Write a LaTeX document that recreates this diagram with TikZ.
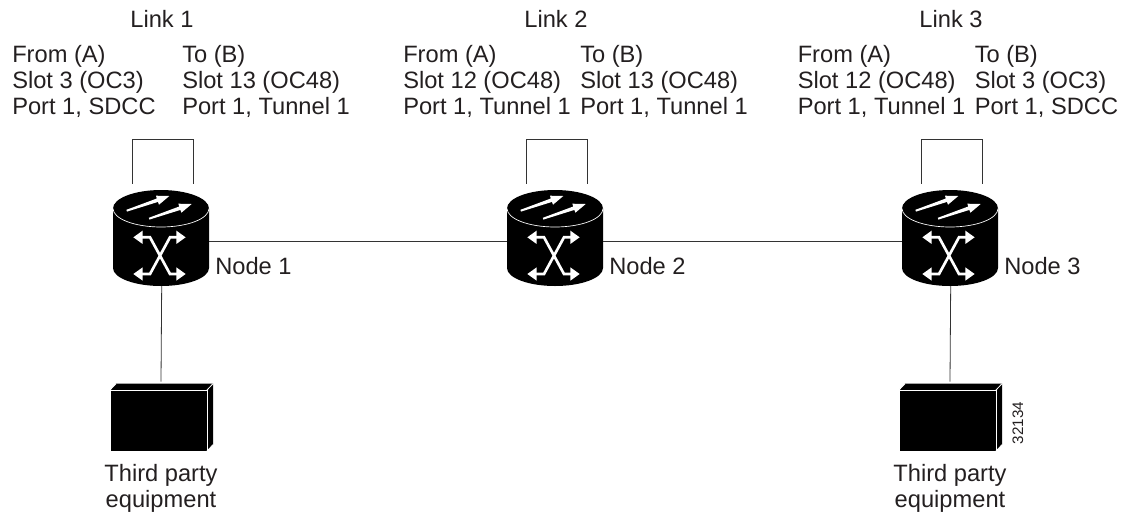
\documentclass[tikz,border=0pt]{standalone}
\usepackage{fontspec}
\setmainfont{Liberation Sans}
\usetikzlibrary{positioning,arrows.meta}

\definecolor{inktext}{HTML}{231F20}

\tikzset{
  wire/.style={draw=black!80,line width=0.6pt},
  labeltext/.style={inner sep=0pt,text=inktext,font=\fontsize{17.75}{19.5}\selectfont},
  blocktext/.style={labeltext,align=left,anchor=north west},
  centertext/.style={labeltext,align=center,anchor=north},
  xarrow/.style={draw=white,line width=2pt,{Triangle[width=9.5pt,length=7pt]}-{Triangle[width=9.5pt,length=7pt]}},
  pics/router/.style={code={
      \fill[black] (-48,0) -- (-48,59.5) arc[start angle=180,end angle=0,x radius=48,y radius=18]
        -- (48,0) arc[start angle=0,end angle=-180,x radius=48,y radius=18.5] -- cycle;
      \draw[white,line width=0.5pt] (-48,0) arc[start angle=180,end angle=0,x radius=48,y radius=18.5];
      \foreach \dx/\dy in {0/0,22.4/8}{
        \fill[white,shift={(\dx,\dy)}] (-34.6,1.3) -- (-34,3.1) -- (-3,-6.6) -- (-2,-3.8) -- (8.3,-12.5)
          -- (-5,-12.8) -- (-4.2,-10) -- cycle;
      }
      \draw[xarrow] (-27.7,28.8) -- (-11,28.8) -- (9,65.5) -- (24.7,65.5);
      \draw[xarrow] (-27.7,65.5) -- (-11,65.5) -- (9,28.8) -- (24.7,28.8);
      \coordinate (-east) at (48,33);
      \coordinate (-west) at (-48,33);
      \coordinate (-south) at (0.7,77.5);
      \coordinate (-loopa) at (-29,-25);
      \coordinate (-loopb) at (32,-25);
      \coordinate (-tag) at (48,65.5);
  }},
  pics/thirdparty/.style={code={
      \fill[black] (-51,6.3) -- (-45,0) -- (52,0) -- (52,61) -- (46,67.3) -- (-51,67.3) -- cycle;
      \draw[white,line width=0.6pt] (-51,6.3) rectangle (46,67.3);
      \draw[white,line width=0.6pt] (-51,6.3) -- (-45,0);
      \draw[white,line width=0.6pt] (46,6.3) -- (52,0);
      \draw[white,line width=0.6pt] (46,67.3) -- (52,61);
      \coordinate (-north) at (0,-2);
      \coordinate (-south) at (0,67.3);
  }}
}

\begin{document}
\begin{tikzpicture}[x=0.75pt,y=-0.75pt]
  \useasboundingbox (0,0) rectangle (1133,512);

  \pic (r1) at (161,208.5) {router};
  \pic (r2) at (555,208.5) {router};
  \pic (r3) at (950,208.5) {router};

  \pic (e1) at (161,383.7) {thirdparty};
  \pic (e3) at (950,383.7) {thirdparty};

  % links between the nodes
  \draw[wire] (r1-east) -- (r2-west);
  \draw[wire] (r2-east) -- (r3-west);
  \draw[wire] (r1-south) -- (e1-north);
  \draw[wire] (r3-south) -- (e3-north);

  % loops on top
  \draw[wire] (r1-loopa) -- ++(0,-44) -| (r1-loopb);
  \draw[wire] (r2-loopa) -- ++(0,-44) -| (r2-loopb);
  \draw[wire] (r3-loopa) -- ++(0,-44) -| (r3-loopb);

  \node[labeltext,anchor=base] (link1) at (162,27) {Link 1};
  \node[labeltext,anchor=base] (link2) at (556,27) {Link 2};
  \node[labeltext,anchor=base] (link3) at (951,27) {Link 3};

  \node[blocktext] (from1) at (12,44.7) {From (A)\\Slot 3 (OC3)\\Port 1, SDCC};
  \node[blocktext] (to1) at (182,44.7) {To (B)\\Slot 13 (OC48)\\Port 1, Tunnel 1};
  \node[blocktext] (from2) at (403,44.7) {From (A)\\Slot 12 (OC48)\\Port 1, Tunnel 1};
  \node[blocktext] (to2) at (580,44.7) {To (B)\\Slot 13 (OC48)\\Port 1, Tunnel 1};
  \node[blocktext] (from3) at (797.5,44.7) {From (A)\\Slot 12 (OC48)\\Port 1, Tunnel 1};
  \node[blocktext] (to3) at (974.5,44.7) {To (B)\\Slot 3 (OC3)\\Port 1, SDCC};

  \node[labeltext,right=4.5pt of r1-tag,anchor=base west] (name1) {Node 1};
  \node[labeltext,right=4.5pt of r2-tag,anchor=base west] (name2) {Node 2};
  \node[labeltext,right=4.5pt of r3-tag,anchor=base west] (name3) {Node 3};

  \node[centertext,below=9.75pt of e1-south] (third1) {Third party\\equipment};
  \node[centertext,below=9.75pt of e3-south] (third3) {Third party\\equipment};

  \node[inner sep=0pt,text=inktext,font=\fontsize{11.4}{13}\selectfont,rotate=90] (figid) at (1018,423) {32134};
\end{tikzpicture}
\end{document}
